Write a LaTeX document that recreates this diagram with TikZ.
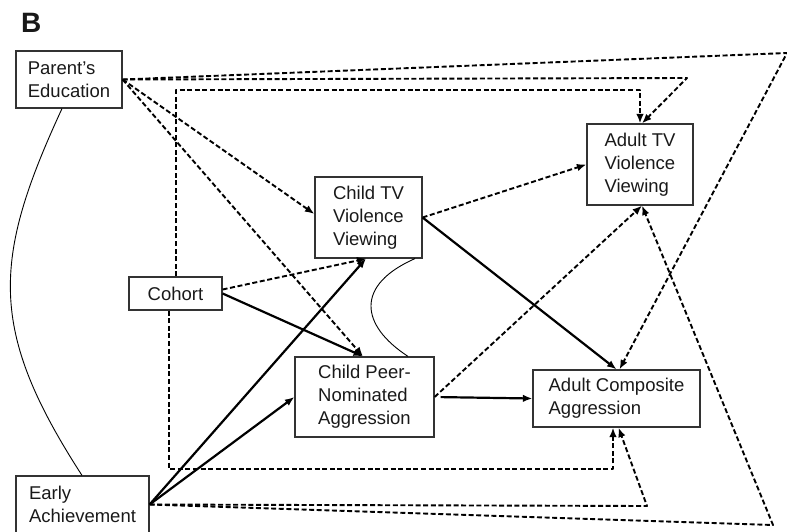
\documentclass[tikz,border=0pt]{standalone}
\usepackage{fontspec}
\setmainfont{Liberation Sans}
\usetikzlibrary{arrows.meta,calc}
\begin{document}
\begin{tikzpicture}[x=1pt,y=-1pt,
  box/.style={draw=black!80,line width=1.2pt,inner sep=0pt,align=left,
    font=\fontsize{18.5}{23}\selectfont,text=black!90},
  tipd/.style={-{Latex[length=9.5pt,width=7.5pt]}},
  dsh/.style={line width=1.9pt,dash pattern=on 5pt off 2.6pt,line join=round,tipd},
  sld/.style={line width=2.2pt,tipd},
  corr/.style={line width=0.9pt}]
\path[use as bounding box] (0,0) rectangle (787,532);

% panel letter
\node[anchor=base west,inner sep=0pt,font=\fontsize{28}{30}\selectfont\bfseries,text=black!90] (lab) at (21,33) {B};

% variables
\node[box,minimum width=106pt,minimum height=57pt] (PE) at (69,79.5) {Parent’s\\Education};
\node[box,minimum width=106pt,minimum height=81pt] (AT) at (640,164.5) {Adult TV\\Violence\\Viewing};
\node[box,minimum width=107pt,minimum height=81pt] (CT) at (368.5,217.5) {Child TV\\Violence\\Viewing};
\node[box,minimum width=93pt,minimum height=33pt] (Co) at (175.5,293.5) {Cohort};
\node[box,minimum width=139pt,minimum height=80pt] (CP) at (364.5,397) {Child Peer-\\Nominated\\Aggression};
\node[box,minimum width=167pt,minimum height=57pt] (AC) at (616.5,398.5) {Adult Composite\\Aggression};
\node[box,minimum width=133pt,minimum height=57pt] (EA) at (82.5,504.5) {Early\\Achievement};

% bend points of the routed paths
\coordinate (tr) at (787,53);
\coordinate (k1) at (687,78);
\coordinate (c1) at (176,90);
\coordinate (c2) at (640,90);
\coordinate (c3) at (169,469);
\coordinate (c4) at (613,469);
\coordinate (e1) at (647,506);
\coordinate (e2) at (773,525);

% Parent's Education paths
\draw[dsh] (PE.east) -- (tr) -- ([xshift=3pt]AC.north);
\draw[dsh] (PE.east) -- (k1) -- ([xshift=2pt]AT.north);
\draw[dsh] (PE.east) -- ([yshift=3.5pt]CT.west);
\draw[dsh] (PE.east) -- ([xshift=-1.5pt]CP.north);

% Cohort paths
\draw[dsh] ([xshift=0.5pt]Co.north) -- (c1) -- (c2) -- (c2 |- AT.north);
\draw[dsh] ([xshift=-6.5pt]Co.south) -- (c3) -- (c4) -- (c4 |- AC.south);
\draw[dsh] ([yshift=4pt]Co.east) -- ([xshift=-2pt]CT.south);
\draw[sld] (Co.east) -- ([xshift=-1.5pt]CP.north);

% Early Achievement paths
\draw[sld] (EA.east) -- ([xshift=-2.5pt]CT.south);
\draw[sld] (EA.east) -- (CP.west);
\draw[dsh] (EA.east) -- (e1) -- ([xshift=2pt]AC.south);
\draw[dsh] (EA.east) -- (e2) -- ([xshift=2pt]AT.south);

% Child TV Violence Viewing paths
\draw[dsh] (CT.east) -- (AT.west);
\draw[sld] (CT.east) -- (AC.north);

% Child Peer-Nominated Aggression paths
\draw[dsh] (CP.east) -- ([xshift=2pt]AT.south);
\draw[sld,shorten <=6pt] (CP.east) -- (AC.west);

% correlations
\draw[corr] ([xshift=-7pt]PE.south) .. controls (-8,260) and (-12,330) .. ([xshift=-0.5pt]EA.north);
\draw[corr] ([xshift=46.5pt]CT.south) .. controls (355,285) and (360,325) .. ([xshift=43.5pt]CP.north);
\end{tikzpicture}
\end{document}
